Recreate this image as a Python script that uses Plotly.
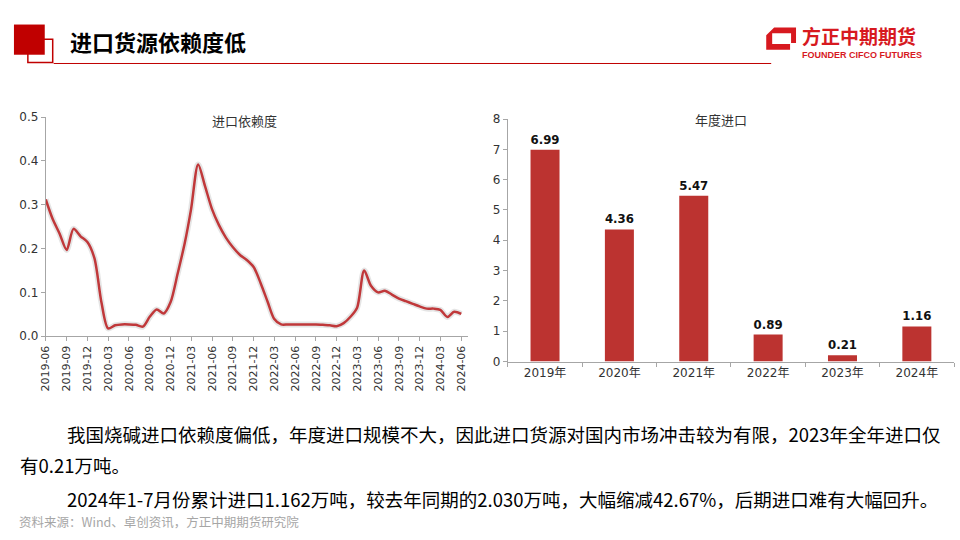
import plotly.graph_objects as go
import pandas as pd

W, H = 960, 540

# monthly import dependency, 2019-06 .. 2024-06
dependency = [
    0.312, 0.268, 0.234, 0.197, 0.245, 0.228, 0.215,
    0.178, 0.077, 0.018, 0.025, 0.027, 0.027, 0.026, 0.022, 0.045, 0.061, 0.052, 0.078,
    0.143, 0.212, 0.290, 0.392, 0.343, 0.290, 0.254, 0.225, 0.203, 0.186, 0.174, 0.158,
    0.121, 0.078, 0.040, 0.027, 0.027, 0.027, 0.027, 0.027, 0.027, 0.026, 0.025, 0.023,
    0.030, 0.045, 0.065, 0.150, 0.115, 0.100, 0.104, 0.095, 0.086, 0.080, 0.074, 0.068,
    0.063, 0.063, 0.060, 0.044, 0.056, 0.051,
]
months = pd.date_range('2019-06-01', periods=len(dependency), freq='MS')

years = ['2019年', '2020年', '2021年', '2022年', '2023年', '2024年']
annual_import = [6.99, 4.36, 5.47, 0.89, 0.21, 1.16]

title = '进口货源依赖度低'
left_title = '进口依赖度'
right_title = '年度进口'
para1 = '我国烧碱进口依赖度偏低，年度进口规模不大，因此进口货源对国内市场冲击较为有限，2023年全年进口仅'
para2 = '有0.21万吨。'
para3 = '2024年1-7月份累计进口1.162万吨，较去年同期的2.030万吨，大幅缩减42.67%，后期进口难有大幅回升。'
source = '资料来源：Wind、卓创资讯，方正中期期货研究院'

RED = '#C00000'
LOGO_RED = '#D7191F'
AXIS = '#A6A6A6'
TXT = '#333333'
CJK = 'Noto Sans CJK SC'
NUM = 'DejaVu Sans, Noto Sans CJK SC'


def px(x):
    return x / W


def py(y):
    return 1 - y / H


def path(points):
    return 'M ' + ' L '.join(f'{px(x):.5f},{py(y):.5f}' for x, y in points) + ' Z'


fig = go.Figure()

# soft shadow under the line
fig.add_trace(go.Scatter(
    x=months, y=dependency, mode='lines',
    line=dict(color='rgba(0,0,0,0.10)', width=6, shape='spline', smoothing=0.8),
    hoverinfo='skip', showlegend=False, xaxis='x', yaxis='y'
))
fig.add_trace(go.Scatter(
    x=months, y=dependency, mode='lines', name='进口依赖度',
    line=dict(color='#C0383A', width=2.5, shape='spline', smoothing=0.8),
    showlegend=False, xaxis='x', yaxis='y'
))

fig.add_trace(go.Bar(
    x=years, y=annual_import, name='年度进口',
    marker=dict(color='#BC3330', line=dict(width=0)),
    width=0.39,
    text=[f'{v:.2f}' for v in annual_import],
    textposition='outside',
    textfont=dict(family='DejaVu Sans', size=12, color='#111111', weight='bold'),
    cliponaxis=False, showlegend=False, xaxis='x2', yaxis='y2'
))

axis_common = dict(showline=True, linecolor=AXIS, linewidth=1, ticks='outside',
                   tickcolor=AXIS, ticklen=4, showgrid=False, zeroline=False)

fig.update_layout(
    width=W, height=H,
    margin=dict(l=0, r=0, t=0, b=0),
    paper_bgcolor='white', plot_bgcolor='white',
    font=dict(family=NUM, color=TXT),
    xaxis=dict(
        domain=[px(40), px(465)], type='date',
        range=['2019-06-01', '2024-07-01'],
        tick0='2019-06-01', dtick='M3', tickformat='%Y-%m', tickangle=-90,
        tickfont=dict(family=NUM, size=11, color=TXT), anchor='y', **axis_common
    ),
    yaxis=dict(
        domain=[py(338), py(113)], range=[0, 0.5], dtick=0.1, tickformat='.1f',
        tickfont=dict(family=NUM, size=12, color=TXT), anchor='x', **axis_common
    ),
    xaxis2=dict(
        domain=[px(505), px(954)], type='category', tickson='boundaries',
        tickfont=dict(family=NUM, size=12, color=TXT), anchor='y2', **axis_common
    ),
    yaxis2=dict(
        domain=[py(364), py(115)], range=[0, 8], dtick=1,
        tickfont=dict(family=NUM, size=12, color=TXT), anchor='x2', **axis_common
    ),
    bargap=0.61,
)

shapes = [
    # header marks
    dict(type='rect', xref='paper', yref='paper', x0=px(22), x1=px(47), y0=py(57), y1=py(33),
         line=dict(color=RED, width=1.5), fillcolor='white'),
    dict(type='rect', xref='paper', yref='paper', x0=px(8), x1=px(39), y0=py(49), y1=py(18),
         line=dict(width=0), fillcolor=RED),
    dict(type='line', xref='paper', yref='paper', x0=px(48), x1=px(770), y0=py(58), y1=py(58),
         line=dict(color=RED, width=1)),
    # logo mark: thick frame with cut corners
    dict(type='path', xref='paper', yref='paper',
         path=path([(773, 21), (795, 21), (795, 37), (790, 37), (790, 27), (771, 27), (771, 38),
                    (789, 38), (789, 44), (765, 44), (765, 29)]),
         line=dict(width=0), fillcolor=LOGO_RED),
]
fig.update_layout(shapes=shapes)


def note(text, x, y, size, color='#000000', family=CJK, anchor='left', weight='normal'):
    fig.add_annotation(
        x=px(x), y=py(y), xref='paper', yref='paper', text=text, showarrow=False,
        xanchor=anchor, yanchor='middle',
        font=dict(family=family, size=size, color=color, weight=weight)
    )


note(title, 62, 35, 22, weight='bold')
note('方正中期期货', 799, 29, 19, color=LOGO_RED, weight='bold')
note('FOUNDER CIFCO FUTURES', 799, 49, 9, color=LOGO_RED, family='Liberation Sans', weight='bold')
note(left_title, 240, 117, 13, color=TXT, anchor='center')
note(right_title, 719, 116, 13, color=TXT, anchor='center')
note(para1, 59, 438, 18.5)
note(para2, 12, 470, 18.5)
note(para3, 59, 505, 18.5)
note(source, 11, 528, 12.5, color='#A6A6A6')

fig.write_html('out.html', config={'displayModeBar': False},
               post_script="document.body.style.margin='0';document.body.style.overflow='hidden';")
